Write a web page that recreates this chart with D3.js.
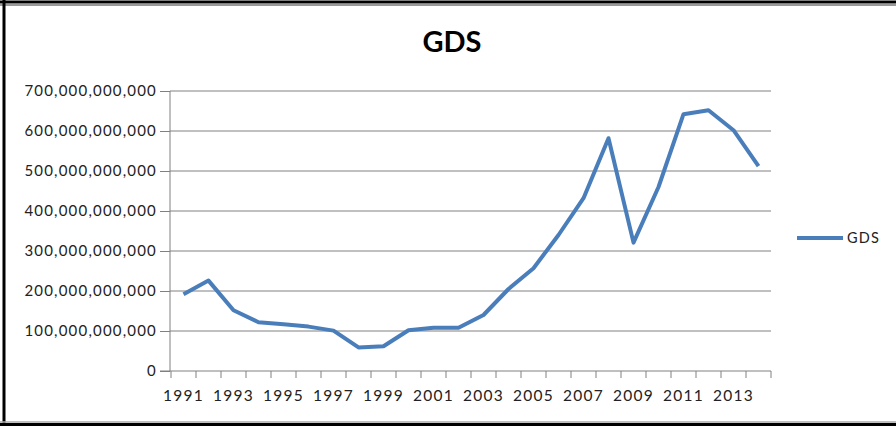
<!DOCTYPE html>
<html>
<head>
<meta charset="utf-8">
<script src="https://cdn.jsdelivr.net/npm/d3@7"></script>
<style>
  html, body { margin: 0; padding: 0; background: #fff; }
  svg { display: block; }
</style>
</head>
<body>
<div id="chart"></div>
<script>
// data (values in US$)
const years = d3.range(1991, 2015);
const gds = [192e9, 226e9, 152e9, 122e9, 117e9, 111e9, 101e9, 59e9, 62e9, 102e9, 108e9, 108e9,
             140e9, 205e9, 257e9, 340e9, 432e9, 582e9, 321e9, 460e9, 642e9, 652e9, 602e9, 512e9];
const yTicks = [0, 100e9, 200e9, 300e9, 400e9, 500e9, 600e9, 700e9];
const xLabels = years.filter((d, i) => i % 2 === 0);

const width = 896, height = 426;
const margin = { top: 91, right: 125, bottom: 55, left: 170 };
const blue = "#4a7ebb";
const font = "Lato, 'Open Sans', sans-serif";

const svg = d3.select("#chart").append("svg")
    .attr("width", width)
    .attr("height", height);

// frame
svg.append("rect").attr("x", 0).attr("y", 0).attr("width", width).attr("height", height).attr("fill", "#fff");
svg.append("line").attr("x1", 0).attr("x2", width).attr("y1", 2).attr("y2", 2).attr("stroke", "#000").attr("stroke-width", 3);
svg.append("line").attr("x1", 0).attr("x2", width).attr("y1", 5).attr("y2", 5).attr("stroke", "#999").attr("stroke-width", 2);
svg.append("line").attr("x1", 4).attr("x2", 4).attr("y1", 0).attr("y2", height).attr("stroke", "#000").attr("stroke-width", 3);
svg.append("line").attr("x1", 0).attr("x2", width).attr("y1", 424.5).attr("y2", 424.5).attr("stroke", "#000").attr("stroke-width", 3);
svg.append("line").attr("x1", 0).attr("x2", width).attr("y1", 422).attr("y2", 422).attr("stroke", "#aaa").attr("stroke-width", 1.5);

const x = d3.scaleBand()
    .domain(years)
    .range([margin.left + 1, width - margin.right]);

const y = d3.scaleLinear()
    .domain([0, 700e9])
    .range([height - margin.bottom, margin.top]);

// gridlines
svg.append("g")
    .selectAll("line")
    .data(yTicks.slice(1))
    .join("line")
    .attr("x1", margin.left)
    .attr("x2", width - margin.right)
    .attr("y1", d => y(d))
    .attr("y2", d => y(d))
    .attr("stroke", "#808080")
    .attr("stroke-width", 1);

// y axis
const yAxis = svg.append("g")
    .attr("transform", `translate(${margin.left},0)`)
    .call(d3.axisLeft(y).tickValues(yTicks).tickSize(10).tickPadding(3).tickFormat(d3.format(",")));
yAxis.selectAll("line, path").attr("stroke", "#808080");
yAxis.select(".domain").attr("d", `M-10,${y(0)}H0V${y(700e9)}`);
yAxis.selectAll("text")
    .style("font-family", font)
    .style("font-size", "15px")
    .style("letter-spacing", "1.2px")
    .attr("fill", "#222");

// x axis: ticks on category boundaries, labels every other year
const xg = svg.append("g").attr("transform", `translate(0,${y(0)})`);
xg.append("line")
    .attr("x1", margin.left).attr("x2", width - margin.right)
    .attr("stroke", "#808080");
xg.selectAll(".tick")
    .data(years.map(d => x(d)).concat([x(years[years.length - 1]) + x.bandwidth()]))
    .join("line")
    .attr("class", "tick")
    .attr("x1", d => d).attr("x2", d => d)
    .attr("y1", 0).attr("y2", 7)
    .attr("stroke", "#808080");
xg.selectAll("text")
    .data(xLabels)
    .join("text")
    .attr("x", d => x(d) + x.bandwidth() / 2)
    .attr("y", 30)
    .attr("text-anchor", "middle")
    .style("font-family", font)
    .style("font-size", "15.5px")
    .style("letter-spacing", "1.3px")
    .attr("fill", "#222")
    .text(d => d);

// series line
const line = d3.line()
    .x((d, i) => x(years[i]) + x.bandwidth() / 2)
    .y(d => y(d));

svg.append("path")
    .datum(gds)
    .attr("fill", "none")
    .attr("stroke", blue)
    .attr("stroke-width", 4)
    .attr("stroke-linejoin", "round")
    .attr("d", line);

// title
svg.append("text")
    .attr("x", 452)
    .attr("y", 52)
    .attr("text-anchor", "middle")
    .style("font-family", font)
    .style("font-size", "29px")
    .style("font-weight", "bold")
    .attr("fill", "#000")
    .text("GDS");

// legend
const legend = svg.append("g").attr("transform", "translate(797,238)");
legend.append("line")
    .attr("x1", 0).attr("x2", 46)
    .attr("stroke", blue)
    .attr("stroke-width", 4);
legend.append("text")
    .attr("x", 50)
    .attr("y", 5)
    .style("font-family", font)
    .style("font-size", "14.5px")
    .style("letter-spacing", "1.2px")
    .attr("fill", "#222")
    .text("GDS");
</script>
</body>
</html>
